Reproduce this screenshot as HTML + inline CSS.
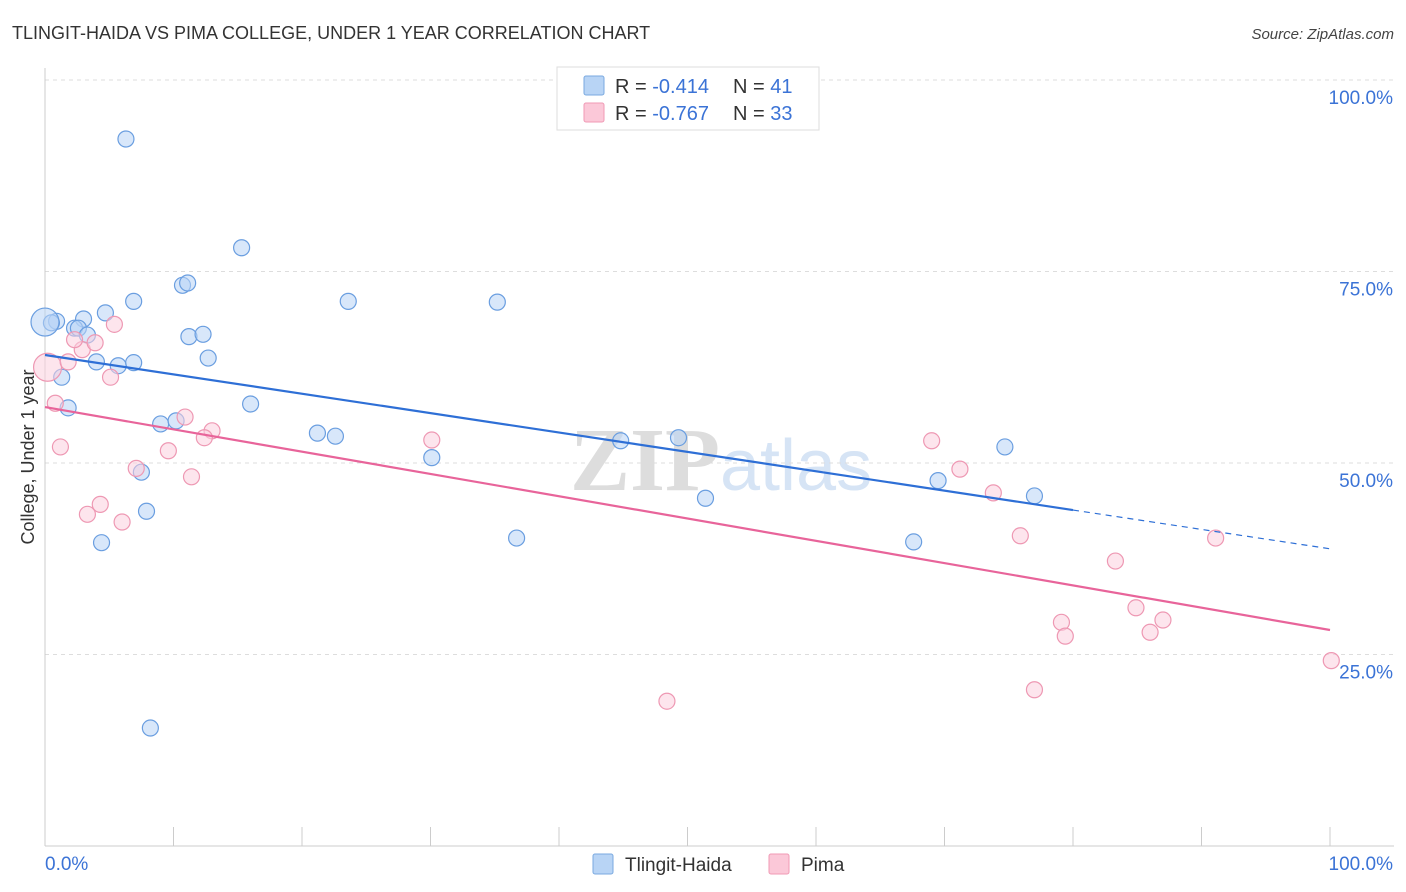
<!DOCTYPE html>
<html><head><meta charset="utf-8"><style>
body{margin:0;background:#fff;font-family:"Liberation Sans",sans-serif;}
#wrap{position:relative;width:1406px;height:892px;overflow:hidden;}
</style></head><body>
<div id="wrap">
<svg id="svg" width="1406" height="892" xmlns="http://www.w3.org/2000/svg">
<text x="12" y="39" font-size="18" fill="#333">TLINGIT-HAIDA VS PIMA COLLEGE, UNDER 1 YEAR CORRELATION CHART</text>
<text x="1394" y="39" font-size="15" fill="#444" font-style="italic" text-anchor="end">Source: ZipAtlas.com</text>
<text x="720" y="490" font-size="90" font-family="Liberation Serif,serif" font-weight="bold" fill="#ddd" text-anchor="end">ZIP</text>
<text x="720" y="490" font-size="72" fill="#d6e4f5">atlas</text>
<g id="grid"></g>
<g id="axes"></g>
<g id="pts"></g>
<g id="lines"></g>
<text transform="translate(34,457) rotate(-90)" font-size="18" fill="#333" text-anchor="middle">College, Under 1 year</text>
<g>
<rect x="557" y="67" width="262" height="63" fill="#fff" stroke="#ddd"/>
<rect x="584" y="76" width="20" height="19" fill="#b8d4f5" stroke="#7aa9e0" rx="2"/>
<rect x="584" y="103" width="20" height="19" fill="#fbc8d8" stroke="#f09ab5" rx="2"/>
<text x="615" y="93" font-size="20" fill="#333">R = <tspan fill="#3b73d6">-0.414</tspan><tspan x="733">N = </tspan><tspan fill="#3b73d6">41</tspan></text>
<text x="615" y="120" font-size="20" fill="#333">R = <tspan fill="#3b73d6">-0.767</tspan><tspan x="733">N = </tspan><tspan fill="#3b73d6">33</tspan></text>
</g>
<g>
<rect x="593" y="854" width="20" height="20" fill="#b8d4f5" stroke="#7aa9e0" rx="2"/>
<text x="625" y="871" font-size="19" fill="#333">Tlingit-Haida</text>
<rect x="769" y="854" width="20" height="20" fill="#fbc8d8" stroke="#f09ab5" rx="2"/>
<text x="801" y="871" font-size="19" fill="#333">Pima</text>
</g>
</svg>
</div>
<script>
const yTicks=[25,50,75,100];
const yTickLabels=["25.0%","50.0%","75.0%","100.0%"];
const xTickLabels=["0.0%","100.0%"];
const blueX=[6.3,15.3,10.7,11.1,6.9,23.6,35.2,4.7,3.0,0.9,0.5,2.3,2.6,3.3,11.2,12.3,4.0,5.7,6.9,12.7,1.3,16.0,1.8,9.0,10.2,21.2,22.6,44.8,49.3,74.7,30.1,7.5,69.5,77.0,51.4,7.9,4.4,36.7,67.6,8.2,0];
const blueY=[92.3,78.1,73.2,73.5,71.1,71.1,71.0,69.6,68.8,68.5,68.3,67.6,67.6,66.7,66.5,66.8,63.2,62.7,63.1,63.7,61.2,57.7,57.2,55.1,55.5,53.9,53.5,52.9,53.3,52.1,50.7,48.8,47.7,45.7,45.4,43.7,39.6,40.2,39.7,15.4,68.4];
const pinkX=[0.2,1.8,2.9,3.9,2.3,5.4,5.1,0.8,1.2,10.9,13.0,12.4,9.6,7.1,11.4,4.3,3.3,6.0,30.1,69.0,71.2,73.8,75.9,83.3,91.1,84.9,87.0,86.0,79.1,79.4,77.0,48.4,100.1];
const pinkY=[62.5,63.2,64.8,65.7,66.1,68.1,61.2,57.8,52.1,56.0,54.2,53.3,51.6,49.3,48.2,44.6,43.3,42.3,53.0,52.9,49.2,46.1,40.5,37.2,40.2,31.1,29.5,27.9,29.2,27.4,20.4,18.9,24.2];
const blueTrend=[64.1,-0.253]; // intercept, slope
const pinkTrend=[57.3,-0.291];
const NS="http://www.w3.org/2000/svg";
const X0=45,X1=1330,Y0=846,Y100=80;
const sx=v=>X0+(X1-X0)*v/100, sy=v=>Y0-(Y0-Y100)*v/100;
function mk(t,a,p){const e=document.createElementNS(NS,t);for(const k in a)e.setAttribute(k,a[k]);p.appendChild(e);return e;}
const grid=document.getElementById('grid'),axes=document.getElementById('axes');
yTicks.forEach((v,i)=>{
 const l=mk('line',{x1:X0,x2:1394,y1:sy(v),y2:sy(v),stroke:'#ddd','stroke-dasharray':'4,4'},grid);
 
 
 const t=mk('text',{x:1393,y:sy(v)+24,'font-size':19,fill:'#3b73d6','text-anchor':'end'},axes);
 t.textContent=yTickLabels[i];
 
 
});
mk('line',{x1:X0,x2:X0,y1:68,y2:Y0,stroke:'#ccc'},axes);
mk('line',{x1:X0,x2:1394,y1:Y0,y2:Y0,stroke:'#ccc'},axes);
for(let i=0;i<=10;i++){mk('line',{x1:sx(i*10),x2:sx(i*10),y1:827,y2:Y0,stroke:'#ccc'},axes);}
[[0,'start',45],[100,'end',1393]].forEach((d,i)=>{
 const t=mk('text',{x:d[2],y:870,'font-size':19,fill:'#3b73d6','text-anchor':d[1]},axes);
 t.textContent=xTickLabels[i];
 
 
});
const pts=document.getElementById('pts');
function dots(xs,ys,fill,stroke,name){xs.forEach((x,i)=>{
 const big=(x===0||x===0.2)&&i===xs.length-1||(name==='pima-point'&&i===0);
 const c=mk('circle',{cx:sx(x),cy:sy(ys[i]),r:big?14:8,fill:fill,'fill-opacity':0.55,stroke:stroke,'stroke-width':1.2},pts);
 
 
});}
dots(blueX,blueY,'#b8d4f5','#6a9ee0','tlingit-point');
dots(pinkX,pinkY,'#fbd0de','#ee98b3','pima-point');
const lines=document.getElementById('lines');
function trend(tr,end,col,name,dashEnd){
 const l=mk('line',{x1:sx(0),y1:sy(tr[0]),x2:sx(end),y2:sy(tr[0]+tr[1]*end),stroke:col,'stroke-width':2.2},lines);
 
 
 if(dashEnd){const d=mk('line',{x1:sx(end),y1:sy(tr[0]+tr[1]*end),x2:sx(dashEnd),y2:sy(tr[0]+tr[1]*dashEnd),stroke:col,'stroke-width':1.2,'stroke-dasharray':'6,5'},lines);
 
 }
}
trend(blueTrend,80,'#2e6fd6','tlingit-trendline',100);
trend(pinkTrend,100,'#e8649a','pima-trendline');
</script>
</body></html>
